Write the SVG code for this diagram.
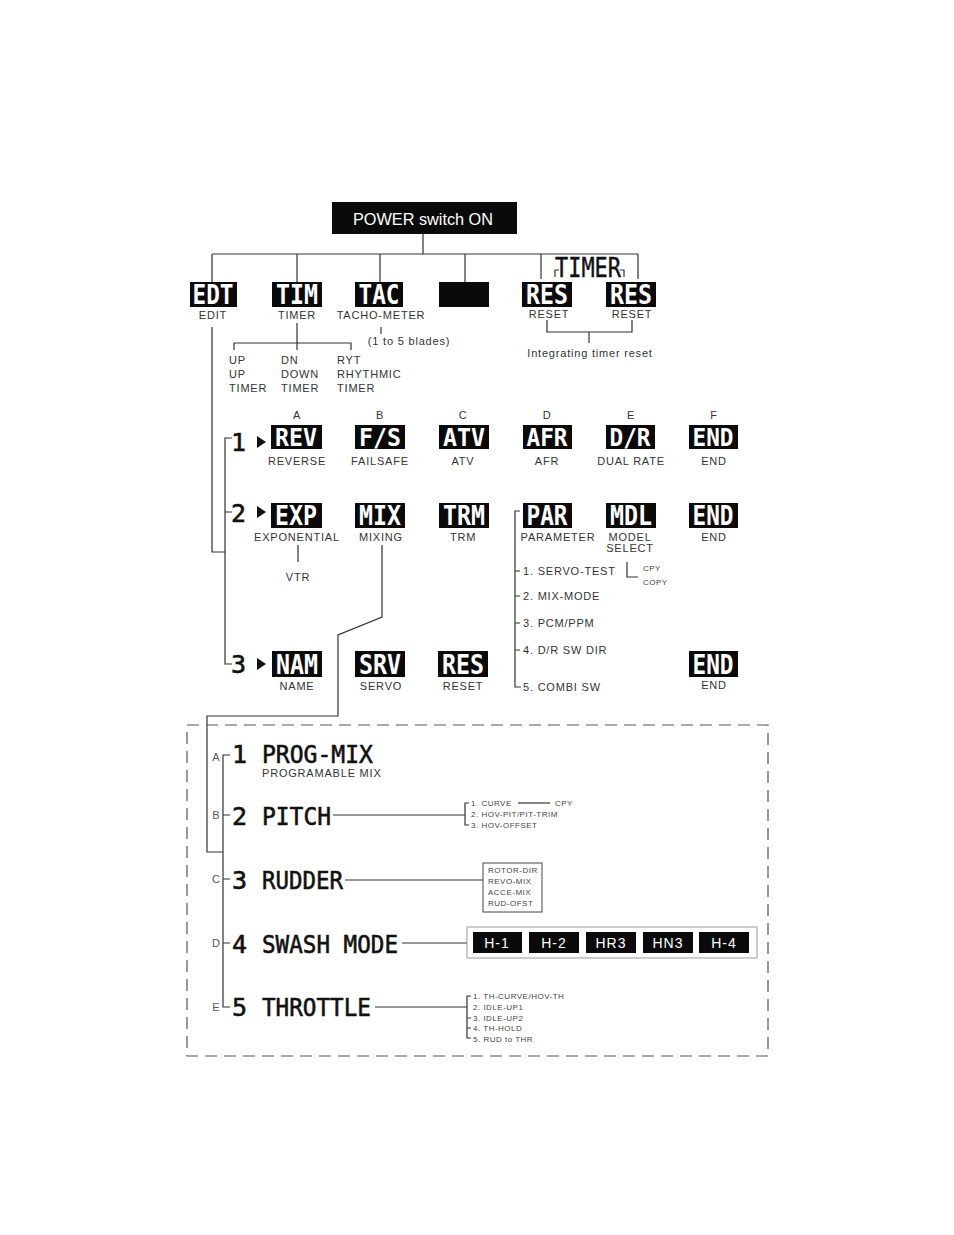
<svg xmlns="http://www.w3.org/2000/svg" width="954" height="1235" viewBox="0 0 954 1235">
<style>
.bx{fill:#0a0a0a}
.bt{font-family:'DejaVu Sans Mono',monospace;font-weight:bold;font-size:27px;fill:#fff;text-anchor:middle}
.r1{font-size:24.5px}
.lb{font-family:'Liberation Sans',Arial,sans-serif;font-size:11px;fill:#333;letter-spacing:0.8px;text-anchor:middle}
.lt{font-family:'Liberation Sans',Arial,sans-serif;font-size:11px;fill:#333;letter-spacing:0.8px}
.ln{stroke:#333;stroke-width:1.2;fill:none}
.big{font-family:'DejaVu Sans Mono',monospace;font-size:25px;fill:#111;stroke:#111;stroke-width:0.6}
.sm{font-family:'Liberation Sans',Arial,sans-serif;font-size:8px;fill:#444;letter-spacing:0.5px}
.ab{font-family:'Liberation Sans',Arial,sans-serif;font-size:11px;fill:#555;text-anchor:middle}
.sw{font-family:'Liberation Sans',Arial,sans-serif;font-size:14px;fill:#fff;text-anchor:middle;letter-spacing:1px}
</style>

<g id="connectors">
  <path class="ln" d="M423 234V254M212 254H638M212 254V282M297 254V282M380 254V282M465 254V282M541 254V279M638 254V279"/>
  <path class="ln" d="M555 277V270H559M624 277V270H620"/>
  <path class="ln" d="M297 323V350M234 350V343H351V350"/>
  <path class="ln" d="M381 327V334"/>
  <path class="ln" d="M547 320V332H632V320M589 332V343"/>
  <path class="ln" d="M212 327V552H225"/>
  <path class="ln" d="M232 438H225V664H232M225 512H232"/>
  <path class="ln" d="M298 545V562"/>
  <path class="ln" d="M382 545V617L338 635V716H207V852H223"/>
  <path class="ln" d="M520 511H515V687H521M515 571H520M515 596H520M515 623H520M515 650H520"/>
  <path class="ln" d="M627 562V577H638"/>
  <path class="ln" d="M230 755H223V1007H230M223 815H230M223 879H230M223 943H230"/>
  <path class="ln" d="M333 815H465M469 803H465V825H469"/>
  <path class="ln" d="M345 880H483"/>
  <path class="ln" d="M402 943H467"/>
  <path class="ln" d="M375 1007H467M471 996H467V1038H471M467 1018H471M467 1028H471"/>
  <path class="ln" d="M518 803H550"/>
</g>

<g id="power"><rect class="bx" x="332" y="202" width="185" height="32"/><text x="423" y="225" font-family="'Liberation Sans',Arial,sans-serif" font-size="16.5" fill="#fff" text-anchor="middle" textLength="140" lengthAdjust="spacingAndGlyphs">POWER switch ON</text></g>

<g id="edt"><rect class="bx" x="190" y="282" width="47" height="25"/><text class="bt" x="213" y="304" textLength="41" lengthAdjust="spacingAndGlyphs">EDT</text><text class="lb" x="213" y="319">EDIT</text></g>
<g id="tim"><rect class="bx" x="272" y="282" width="50" height="25"/><text class="bt" x="297" y="304" textLength="42" lengthAdjust="spacingAndGlyphs">TIM</text><text class="lb" x="297" y="319">TIMER</text>
  <text class="lt" x="229" y="364">UP</text><text class="lt" x="229" y="378">UP</text><text class="lt" x="229" y="392">TIMER</text>
  <text class="lt" x="281" y="364">DN</text><text class="lt" x="281" y="378">DOWN</text><text class="lt" x="281" y="392">TIMER</text>
  <text class="lt" x="337" y="364">RYT</text><text class="lt" x="337" y="378">RHYTHMIC</text><text class="lt" x="337" y="392">TIMER</text></g>
<g id="tac"><rect class="bx" x="355" y="282" width="48" height="25"/><text class="bt" x="379" y="304" textLength="41" lengthAdjust="spacingAndGlyphs">TAC</text><text class="lb" x="381" y="319">TACHO-METER</text><text class="lb" x="409" y="345" letter-spacing="0.3">(1 to 5 blades)</text></g>
<g id="blank"><rect class="bx" x="439" y="282" width="50" height="25"/></g>
<g id="timer-label"><text x="588" y="277" font-family="'DejaVu Sans Mono',monospace" font-size="26" fill="#111" stroke="#111" stroke-width="0.4" text-anchor="middle" textLength="66" lengthAdjust="spacingAndGlyphs">TIMER</text></g>
<g id="res1"><rect class="bx" x="522" y="282" width="50" height="25"/><text class="bt" x="547" y="304" textLength="42" lengthAdjust="spacingAndGlyphs">RES</text><text class="lb" x="549" y="318">RESET</text></g>
<g id="res2"><rect class="bx" x="606" y="282" width="50" height="25"/><text class="bt" x="631" y="304" textLength="42" lengthAdjust="spacingAndGlyphs">RES</text><text class="lb" x="632" y="318">RESET</text></g>
<g id="integ"><text class="lb" x="590" y="357" letter-spacing="0.3">Integrating timer reset</text></g>

<g id="row1">
  <text class="big" x="231" y="451" font-size="26" stroke-width="0.2">1</text><polygon points="257,436 266,442 257,448" fill="#111"/>
  <text class="lb" x="297" y="419" font-size="12">A</text><text class="lb" x="380" y="419" font-size="12">B</text><text class="lb" x="463" y="419" font-size="12">C</text><text class="lb" x="547" y="419" font-size="12">D</text><text class="lb" x="631" y="419" font-size="12">E</text><text class="lb" x="714" y="419" font-size="12">F</text>
</g>
<g id="rev"><rect class="bx" x="271" y="425" width="51" height="24"/><text class="bt r1" x="296" y="446" textLength="42" lengthAdjust="spacingAndGlyphs">REV</text><text class="lb" x="297" y="465">REVERSE</text></g>
<g id="fs"><rect class="bx" x="355" y="425" width="50" height="24"/><text class="bt r1" x="380" y="446" textLength="42" lengthAdjust="spacingAndGlyphs">F/S</text><text class="lb" x="380" y="465">FAILSAFE</text></g>
<g id="atv"><rect class="bx" x="439" y="425" width="50" height="24"/><text class="bt r1" x="464" y="446" textLength="42" lengthAdjust="spacingAndGlyphs">ATV</text><text class="lb" x="463" y="465">ATV</text></g>
<g id="afr"><rect class="bx" x="523" y="425" width="49" height="24"/><text class="bt r1" x="547" y="446" textLength="41" lengthAdjust="spacingAndGlyphs">AFR</text><text class="lb" x="547" y="465">AFR</text></g>
<g id="dr"><rect class="bx" x="606" y="425" width="49" height="24"/><text class="bt r1" x="630" y="446" textLength="41" lengthAdjust="spacingAndGlyphs">D/R</text><text class="lb" x="631" y="465">DUAL RATE</text></g>
<g id="end1"><rect class="bx" x="689" y="425" width="49" height="24"/><text class="bt r1" x="713" y="446" textLength="41" lengthAdjust="spacingAndGlyphs">END</text><text class="lb" x="714" y="465">END</text></g>

<g id="row2"><text class="big" x="231" y="522" font-size="26" stroke-width="0.2">2</text><polygon points="257,506 266,512 257,518" fill="#111"/></g>
<g id="exp"><rect class="bx" x="271" y="503" width="51" height="25"/><text class="bt" x="296" y="525" textLength="42" lengthAdjust="spacingAndGlyphs">EXP</text><text class="lb" x="297" y="541">EXPONENTIAL</text><text class="lb" x="298" y="581">VTR</text></g>
<g id="mix"><rect class="bx" x="355" y="503" width="50" height="25"/><text class="bt" x="380" y="525" textLength="42" lengthAdjust="spacingAndGlyphs">MIX</text><text class="lb" x="381" y="541">MIXING</text></g>
<g id="trm"><rect class="bx" x="439" y="503" width="50" height="25"/><text class="bt" x="464" y="525" textLength="42" lengthAdjust="spacingAndGlyphs">TRM</text><text class="lb" x="463" y="541">TRM</text></g>
<g id="par"><rect class="bx" x="523" y="503" width="49" height="25"/><text class="bt" x="547" y="525" textLength="41" lengthAdjust="spacingAndGlyphs">PAR</text><text class="lb" x="558" y="541">PARAMETER</text>
  <text class="lt" x="523" y="575">1. SERVO-TEST</text><text class="lt" x="523" y="600">2. MIX-MODE</text><text class="lt" x="523" y="627">3. PCM/PPM</text><text class="lt" x="523" y="654">4. D/R SW DIR</text><text class="lt" x="523" y="691">5. COMBI SW</text></g>
<g id="mdl"><rect class="bx" x="606" y="503" width="50" height="25"/><text class="bt" x="631" y="525" textLength="42" lengthAdjust="spacingAndGlyphs">MDL</text><text class="lb" x="630" y="541">MODEL</text><text class="lb" x="630" y="552">SELECT</text>
  <text class="sm" x="643" y="571">CPY</text><text class="sm" x="643" y="585">COPY</text></g>
<g id="end2"><rect class="bx" x="689" y="503" width="49" height="25"/><text class="bt" x="713" y="525" textLength="41" lengthAdjust="spacingAndGlyphs">END</text><text class="lb" x="714" y="541">END</text></g>

<g id="row3"><text class="big" x="231" y="673" font-size="26" stroke-width="0.2">3</text><polygon points="257,658 266,664 257,670" fill="#111"/></g>
<g id="nam"><rect class="bx" x="272" y="651" width="50" height="26"/><text class="bt" x="297" y="674" textLength="42" lengthAdjust="spacingAndGlyphs">NAM</text><text class="lb" x="297" y="690">NAME</text></g>
<g id="srv"><rect class="bx" x="355" y="651" width="50" height="26"/><text class="bt" x="380" y="674" textLength="42" lengthAdjust="spacingAndGlyphs">SRV</text><text class="lb" x="381" y="690">SERVO</text></g>
<g id="res3"><rect class="bx" x="438" y="651" width="50" height="26"/><text class="bt" x="463" y="674" textLength="42" lengthAdjust="spacingAndGlyphs">RES</text><text class="lb" x="463" y="690">RESET</text></g>
<g id="end3"><rect class="bx" x="689" y="651" width="49" height="26"/><text class="bt" x="713" y="674" textLength="41" lengthAdjust="spacingAndGlyphs">END</text><text class="lb" x="714" y="689">END</text></g>

<g id="mixbox"><rect x="187" y="725" width="581" height="331" fill="none" stroke="#555" stroke-width="1.2" stroke-dasharray="12 7"/></g>

<g id="progmix"><text class="ab" x="216" y="761">A</text><text class="big" x="232" y="763">1</text><text class="big" x="262" y="763" textLength="111" lengthAdjust="spacingAndGlyphs">PROG-MIX</text><text class="lt" x="262" y="777" letter-spacing="1">PROGRAMABLE MIX</text></g>
<g id="pitch"><text class="ab" x="216" y="819">B</text><text class="big" x="232" y="825">2</text><text class="big" x="262" y="825" textLength="69" lengthAdjust="spacingAndGlyphs">PITCH</text>
  <text class="sm" x="471" y="806">1. CURVE</text><text class="sm" x="555" y="806">CPY</text><text class="sm" x="471" y="817">2. HOV-PIT/PIT-TRIM</text><text class="sm" x="471" y="828">3. HOV-OFFSET</text></g>
<g id="rudder"><text class="ab" x="216" y="883">C</text><text class="big" x="232" y="889">3</text><text class="big" x="262" y="889" textLength="81" lengthAdjust="spacingAndGlyphs">RUDDER</text>
  <rect x="483" y="863" width="59" height="49" fill="#fff" stroke="#444" stroke-width="1"/>
  <text class="sm" x="488" y="873">ROTOR-DIR</text><text class="sm" x="488" y="884">REVO-MIX</text><text class="sm" x="488" y="895">ACCE-MIX</text><text class="sm" x="488" y="906">RUD-OFST</text></g>
<g id="swash"><text class="ab" x="216" y="947">D</text><text class="big" x="232" y="953">4</text><text class="big" x="262" y="953" textLength="136" lengthAdjust="spacingAndGlyphs">SWASH MODE</text>
  <rect x="467" y="927" width="290" height="31" fill="#fff" stroke="#999" stroke-width="1"/>
  <rect class="bx" x="473" y="932" width="49" height="21"/><text class="sw" x="497" y="948">H-1</text>
  <rect class="bx" x="529" y="932" width="50" height="21"/><text class="sw" x="554" y="948">H-2</text>
  <rect class="bx" x="586" y="932" width="50" height="21"/><text class="sw" x="611" y="948">HR3</text>
  <rect class="bx" x="643" y="932" width="50" height="21"/><text class="sw" x="668" y="948">HN3</text>
  <rect class="bx" x="699" y="932" width="50" height="21"/><text class="sw" x="724" y="948">H-4</text></g>
<g id="throttle"><text class="ab" x="216" y="1011">E</text><text class="big" x="232" y="1016">5</text><text class="big" x="262" y="1016" textLength="109" lengthAdjust="spacingAndGlyphs">THROTTLE</text>
  <text class="sm" x="473" y="999">1. TH-CURVE/HOV-TH</text><text class="sm" x="473" y="1010">2. IDLE-UP1</text><text class="sm" x="473" y="1021">3. IDLE-UP2</text><text class="sm" x="473" y="1031">4. TH-HOLD</text><text class="sm" x="473" y="1042">5. RUD to THR</text></g>
</svg>
